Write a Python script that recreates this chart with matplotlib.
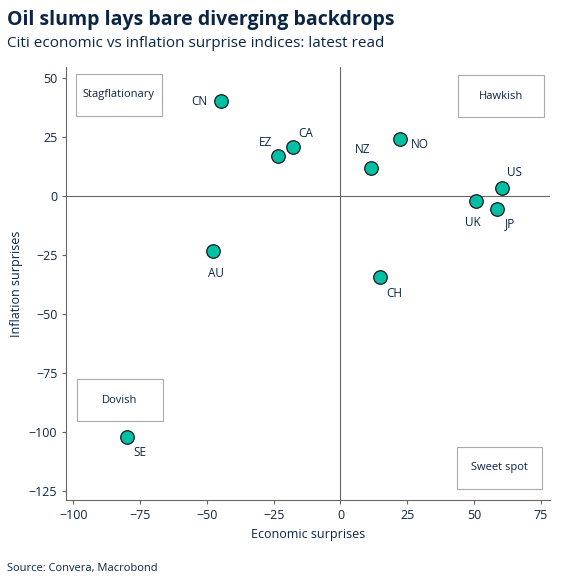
import matplotlib.pyplot as plt

plt.rcParams['font.family'] = ['Open Sans', 'DejaVu Sans']

countries = ['CN', 'CA', 'EZ', 'NZ', 'NO', 'US', 'UK', 'JP', 'AU', 'CH', 'SE']
econ = [-44.7, -17.7, -23.3, 11.4, 22.3, 60.4, 50.7, 58.6, -47.7, 14.8, -79.8]
infl = [40.2, 20.7, 16.9, 11.8, 24.5, 3.7, -1.8, -5.2, -23.1, -34.0, -102.0]
# label offsets in points
offsets = {'CN': (-16, 0), 'CA': (9, 10), 'EZ': (-9, 10), 'NZ': (-6, 14),
           'NO': (14, -4), 'US': (9, 11), 'UK': (-2, -16), 'JP': (9, -11),
           'AU': (2, -16), 'CH': (10, -12), 'SE': (9, -11)}

navy = '#0b2545'
fig = plt.figure(figsize=(5.67, 5.85), dpi=100)
ax = fig.add_axes([0.117, 0.145, 0.853, 0.74])

ax.axhline(0, color='#666666', lw=0.8, zorder=1)
ax.axvline(0, color='#666666', lw=0.8, zorder=1)
ax.scatter(econ, infl, s=95, color='#00bfa5', edgecolors='#1a1a1a',
           linewidths=0.9, zorder=3)
for c, x, y in zip(countries, econ, infl):
    dx, dy = offsets[c]
    ax.annotate(c, (x, y), xytext=(dx, dy), textcoords='offset points',
                ha='center', va='center', fontsize=8.5, color=navy)

# quadrant label boxes (centre in data coords, fixed pixel size)
quads = [('Stagflationary', -83, 43), ('Hawkish', 60, 42.5),
         ('Dovish', -82.5, -86.5), ('Sweet spot', 59.5, -115)]
bw, bh = 86 / 2.674, 42 / 2.354
for label, cx, cy in quads:
    ax.add_patch(plt.Rectangle((cx - bw / 2, cy - bh / 2), bw, bh, fc='white',
                               ec='#aaaaaa', lw=0.8, zorder=2))
    ax.text(cx, cy, label, fontsize=8, color=navy, va='center', ha='center', zorder=4)

ax.set_xlim(-102.6, 78.4)
ax.set_ylim(-128.8, 54.7)
ax.set_xticks([-100, -75, -50, -25, 0, 25, 50, 75])
ax.set_yticks([50, 25, 0, -25, -50, -75, -100, -125])
ax.tick_params(labelsize=9, colors=navy, length=3, color='#666666')
ax.spines[['top', 'right']].set_visible(False)
for s in ['left', 'bottom']:
    ax.spines[s].set_color('#666666')
ax.set_xlabel('Economic surprises', fontsize=9, color=navy)
ax.set_ylabel('Inflation surprises', fontsize=9, color=navy)

fig.text(0.012, 0.965, 'Oil slump lays bare diverging backdrops', fontsize=14,
         fontweight='bold', color=navy, va='center')
fig.text(0.012, 0.925, 'Citi economic vs inflation surprise indices: latest read',
         fontsize=11, color=navy, va='center')
fig.text(0.012, 0.028, 'Source: Convera, Macrobond', fontsize=8, color=navy, va='center')

fig.savefig('out.png', dpi=100)
